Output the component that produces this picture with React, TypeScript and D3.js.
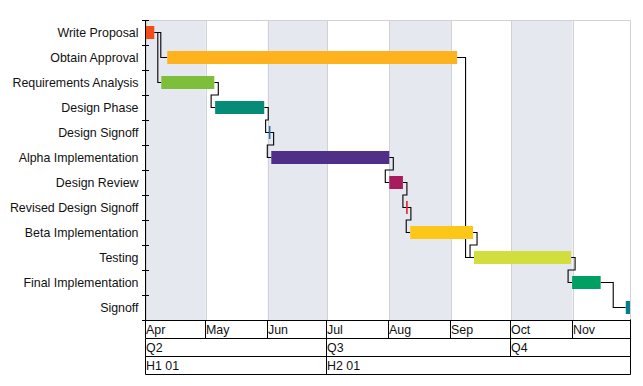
import React from "react";
import * as d3 from "d3";

document.body.style.margin = "0";

const parse = d3.timeParse("%Y-%m-%d %H");

// tasks, top to bottom
const tasks = [
  "Write Proposal",
  "Obtain Approval",
  "Requirements Analysis",
  "Design Phase",
  "Design Signoff",
  "Alpha Implementation",
  "Design Review",
  "Revised Design Signoff",
  "Beta Implementation",
  "Testing",
  "Final Implementation",
  "Signoff",
];
const starts = [
  "2001-04-01 00",
  "2001-04-11 16",
  "2001-04-08 16",
  "2001-05-05 16",
  "2001-06-02 00",
  "2001-06-02 20",
  "2001-08-01 00",
  "2001-08-09 20",
  "2001-08-11 12",
  "2001-09-12 12",
  "2001-10-31 16",
  "2001-11-27 14",
];
const ends = [
  "2001-04-05 04",
  "2001-09-04 00",
  "2001-05-05 06",
  "2001-05-30 07",
  "2001-06-02 00",
  "2001-08-01 00",
  "2001-08-07 20",
  "2001-08-09 20",
  "2001-09-12 00",
  "2001-10-31 04",
  "2001-11-15 00",
  "2001-12-05 00",
];
const colors = [
  "#f04c1c",
  "#fdb21e",
  "#7dbe3a",
  "#068b78",
  "#2b6ea6",
  "#4f2f88",
  "#a81b5d",
  "#ee1c25",
  "#fdc718",
  "#d1de3d",
  "#00a062",
  "#067d8a",
];
const milestone = [false, false, false, false, true, false, false, true, false, false, false, false];

// predecessor -> successor
const links = [
  [0, 1], [0, 2], [2, 3], [3, 4], [4, 5], [5, 6],
  [6, 7], [7, 8], [8, 9], [1, 9], [9, 10], [10, 11],
];

const months = ["Apr", "May", "Jun", "Jul", "Aug", "Sep", "Oct", "Nov"];
const quarterStarts = ["2001-04-01 00", "2001-07-01 00", "2001-10-01 00"];
const quarters = ["Q2", "Q3", "Q4"];
const halfStarts = ["2001-04-01 00", "2001-07-01 00"];
const halves = ["H1 01", "H2 01"];

const domainStart = "2001-04-01 00";
const domainEnd = "2001-11-29 17";

const width = 643;
const height = 386;
const plot = { left: 146, right: 630, top: 20, bottom: 320 };
const tableRowH = 18.3;
const barH = 13;
const font = "'Liberation Sans', Arial, sans-serif";
const fontSize = 12.4;

const App = () => {
  const x = d3
    .scaleTime()
    .domain([parse(domainStart)!, parse(domainEnd)!])
    .range([plot.left, plot.right]);
  const y = d3.scaleBand().domain(tasks).range([plot.top, plot.bottom]);
  const bw = y.bandwidth();
  const cy = (i: number) => y(tasks[i])! + bw / 2;

  const monthDates = d3.timeMonth.range(x.domain()[0], x.domain()[1]);
  const tableTop = plot.bottom - 0.5;

  const linkPath = (a: number, b: number) => {
    const xa = x(parse(ends[a])!);
    const xb = x(parse(starts[b])!);
    const ya = cy(a);
    const yb = cy(b);
    if (xb - xa > 6) {
      const mid = (xa + xb) / 2;
      return `M${xa},${ya}H${mid}V${yb}H${xb}`;
    }
    const yj = yb - bw / 2;
    return `M${xa},${ya}H${xa + 4}V${yj}H${xb - 4}V${yb}H${xb}`;
  };

  return (
    <svg width={width} height={height} style={{ display: "block", fontFamily: font }}>
      <defs>
        <clipPath id="plotClip">
          <rect x={plot.left} y={plot.top} width={plot.right - plot.left} height={plot.bottom - plot.top} />
        </clipPath>
      </defs>

      {/* month bands */}
      {monthDates.map((m, i) => {
        const next = i + 1 < monthDates.length ? monthDates[i + 1] : x.domain()[1];
        return (
          <rect
            key={"band" + i}
            x={x(m)}
            y={plot.top}
            width={x(next) - x(m)}
            height={plot.bottom - plot.top}
            fill={i % 2 === 0 ? "#e6e8f0" : "#ffffff"}
          />
        );
      })}
      {monthDates.map((m, i) => (
        <line
          key={"grid" + i}
          x1={Math.round(x(m)) + 0.5}
          x2={Math.round(x(m)) + 0.5}
          y1={plot.top}
          y2={plot.bottom}
          stroke="#d2d2d6"
        />
      ))}
      <line x1={plot.left} x2={plot.right} y1={plot.top + 0.5} y2={plot.top + 0.5} stroke="#d2d2d6" />
      <line x1={plot.right + 0.5} x2={plot.right + 0.5} y1={plot.top} y2={plot.bottom} stroke="#d2d2d6" />

      {/* connectors */}
      <g clipPath="url(#plotClip)">
        {links.map(([a, b], i) => (
          <path key={"l" + i} d={linkPath(a, b)} fill="none" stroke="#000" strokeWidth={1.1} />
        ))}
      </g>

      {/* bars */}
      <g clipPath="url(#plotClip)">
        {tasks.map((t, i) => {
          const x0 = x(parse(starts[i])!);
          const x1 = x(parse(ends[i])!);
          if (milestone[i]) {
            return (
              <line
                key={t}
                x1={x0}
                x2={x0}
                y1={cy(i) - barH / 2}
                y2={cy(i) + barH / 2}
                stroke={colors[i]}
                strokeWidth={1.6}
              />
            );
          }
          return (
            <rect key={t} x={x0} y={cy(i) - barH / 2} width={x1 - x0} height={barH} fill={colors[i]} />
          );
        })}
      </g>

      {/* left axis */}
      <line x1={plot.left - 0.5} x2={plot.left - 0.5} y1={plot.top} y2={plot.bottom} stroke="#000" />
      {d3.range(tasks.length + 1).map((i) => {
        const ty = Math.round(plot.top + i * bw) + 0.5;
        return (
          <line key={"tick" + i} x1={plot.left - 4} x2={plot.left + 3} y1={ty} y2={ty} stroke="#000" />
        );
      })}
      {tasks.map((t, i) => (
        <text key={"lab" + t} x={138.5} y={cy(i) + 4.4} textAnchor="end" fontSize={fontSize} fill="#111">
          {t}
        </text>
      ))}

      {/* time table */}
      {[0, 1, 2, 3].map((r) => (
        <line
          key={"hr" + r}
          x1={plot.left - 0.5}
          x2={plot.right + 0.5}
          y1={Math.round(tableTop + r * tableRowH) + 0.5}
          y2={Math.round(tableTop + r * tableRowH) + 0.5}
          stroke="#000"
        />
      ))}
      <line
        x1={plot.right + 0.5}
        x2={plot.right + 0.5}
        y1={tableTop}
        y2={Math.round(tableTop + 3 * tableRowH) + 0.5}
        stroke="#000"
      />
      {[
        { dates: monthDates, labels: months },
        { dates: quarterStarts.map((d) => parse(d)!), labels: quarters },
        { dates: halfStarts.map((d) => parse(d)!), labels: halves },
      ].map((row, r) => {
        const top = Math.round(tableTop + r * tableRowH) + 0.5;
        const bottom = Math.round(tableTop + (r + 1) * tableRowH) + 0.5;
        return (
          <g key={"row" + r}>
            {row.dates.map((d, i) => {
              const xx = Math.round(x(d)) - 0.5;
              return (
                <g key={i}>
                  <line x1={xx} x2={xx} y1={top} y2={bottom} stroke="#000" />
                  <text x={xx + 0.5} y={top + 13} fontSize={fontSize} fill="#111">
                    {row.labels[i]}
                  </text>
                </g>
              );
            })}
          </g>
        );
      })}
    </svg>
  );
};

export default App;
